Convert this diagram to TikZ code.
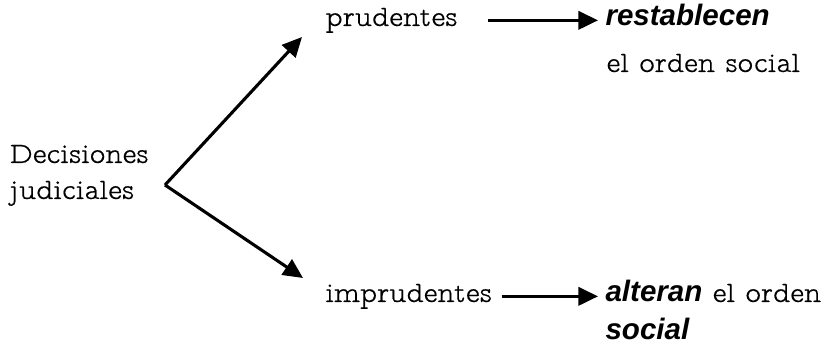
\documentclass[tikz,border=0pt]{standalone}
\usepackage{fontspec}
\setmainfont{lmmonoproplt10-regular}[Extension=.otf, FakeBold=0.4]
\newfontfamily\verbofont{Liberation Sans}
\usetikzlibrary{arrows.meta, positioning}
\tikzstyle{word} = [inner sep=0pt, anchor=base west, font=\fontsize{10.5}{12}\selectfont]
\tikzstyle{arrow} = [line width=1.1pt, -{Triangle[length=7pt,width=6.5pt]}]
\newcommand{\verbo}[1]{{\verbofont\bfseries\itshape #1}}

\begin{document}
\begin{tikzpicture}[x=0.0125cm, y=-0.0125cm]
	\useasboundingbox (0,0) rectangle (821,346);
	% Nodes
	\node (dec) [word] at (9,163) {Decisiones};
	\node (jud) [word] at (9,199) {judiciales};
	\node (prud) [word] at (325,26) {prudentes};
	\node (imprud) [word] at (325,302) {imprudentes};
	\node (rest) [word] at (605,26) {\verbo{restablecen}};
	\node (orden) [word] at (606,72) {el orden social};
	\node (alt) [word] at (605,302) {\verbo{alteran} el orden};
	\node (soc) [word] at (605,340) {\verbo{social}};
	\coordinate (v) at (165,185);
	\coordinate (up) at (302,37);
	\coordinate (down) at (303,278);
	% Arrows
	\draw [arrow] (v) -- (up);
	\draw [arrow] (v) -- (down);
	\draw [arrow, shorten <=30*0.0125cm, shorten >=7*0.0125cm] (prud.east) -- (prud.east -| rest.west);
	\draw [arrow, shorten <=9*0.0125cm, shorten >=7*0.0125cm] (imprud.east) -- (imprud.east -| alt.west);
\end{tikzpicture}
\end{document}
